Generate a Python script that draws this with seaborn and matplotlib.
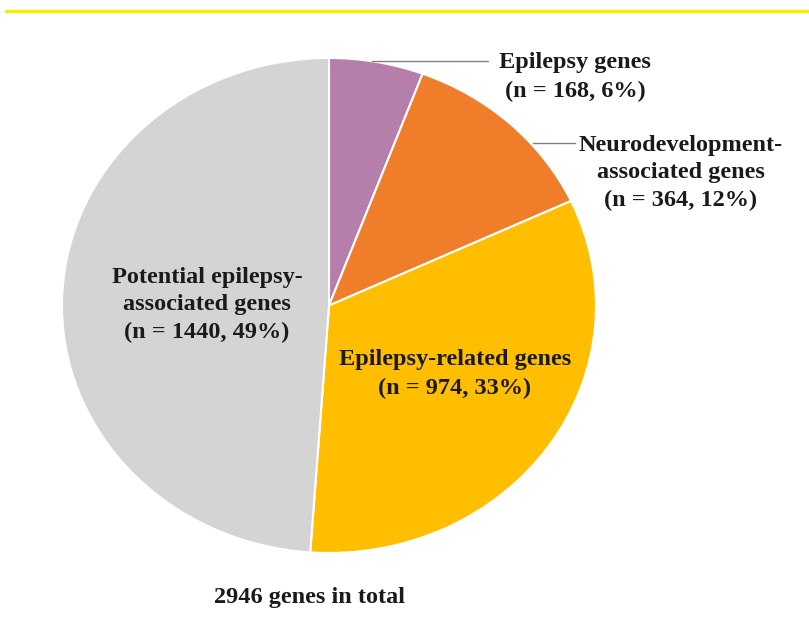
import matplotlib
matplotlib.use("Agg")
import matplotlib.pyplot as plt
from matplotlib.lines import Line2D
import seaborn as sns

categories = ["Epilepsy genes", "Neurodevelopment-associated genes",
              "Epilepsy-related genes", "Potential epilepsy-associated genes"]
counts = [168, 364, 974, 1440]
percents = [6, 12, 33, 49]
colors = ["#b67fab", "#f07d2a", "#ffbf00", "#d4d4d4"]
total = 2946

sns.set_theme(style="white")
plt.rcParams["font.family"] = ["Liberation Serif", "DejaVu Serif"]

W, H = 809, 637
fig = plt.figure(figsize=(W / 100, H / 100), dpi=100)
cx, cy, rx, ry = 329, 305.5, 267, 247.5
ax = fig.add_axes([(cx - rx) / W, (H - cy - ry) / H, 2 * rx / W, 2 * ry / H])

wedges, _ = ax.pie(counts, colors=colors, startangle=90, counterclock=False,
                   wedgeprops=dict(edgecolor="white", linewidth=1.5))
ax.set_aspect("auto")
ax.set_xlim(-1, 1)
ax.set_ylim(-1, 1)
ax.axis("off")

def fx(px):
    return px / W

def fy(py):
    return 1 - py / H

tkw = dict(fontsize=17.5, fontweight="bold", color="#1a1a1a", ha="center", va="center",
           transform=fig.transFigure, linespacing=1.43)

# yellow top rule
fig.add_artist(Line2D([fx(6), fx(809)], [fy(11), fy(11)], color="#f2f000", lw=2.5,
                      transform=fig.transFigure))

# leader lines
fig.add_artist(Line2D([fx(372), fx(488)], [fy(61), fy(61)], color="#808080", lw=1,
                      transform=fig.transFigure))
fig.add_artist(Line2D([fx(533), fx(575)], [fy(143), fy(143)], color="#808080", lw=1,
                      transform=fig.transFigure))

fig.text(fx(575), fy(77), f"{categories[0]}\n(n = {counts[0]}, {percents[0]}%)", **tkw)
fig.text(fx(681), fy(173), "Neurodevelopment-\nassociated genes\n"
         f"(n = {counts[1]}, {percents[1]}%)", **tkw)
fig.text(fx(455), fy(374), f"{categories[2]}\n(n = {counts[2]}, {percents[2]}%)", **tkw)
fig.text(fx(207), fy(305), "Potential epilepsy-\nassociated genes\n"
         f"(n = {counts[3]}, {percents[3]}%)", **tkw)
fig.text(fx(310), fy(598), f"{total} genes in total", **tkw)

fig.savefig("out.png", dpi=100, facecolor="white")
